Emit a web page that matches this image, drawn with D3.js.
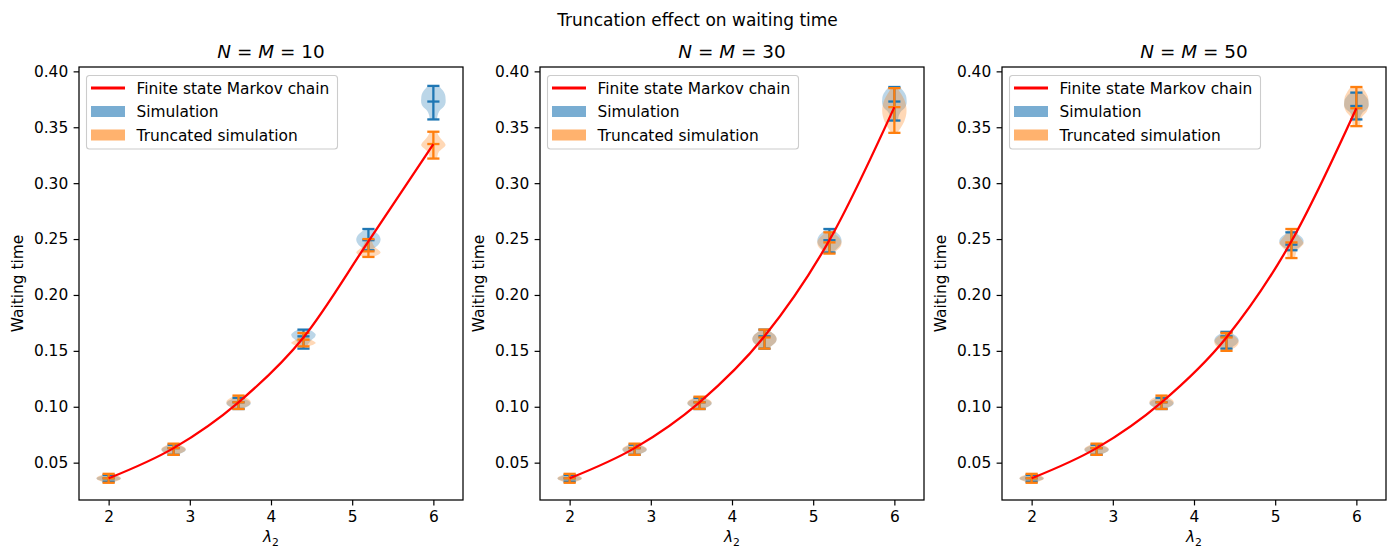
<!DOCTYPE html>
<html>
<head>
<meta charset="utf-8">
<script src="https://cdn.jsdelivr.net/npm/d3@7"></script>
<style>
  html, body { margin: 0; padding: 0; background: #fff; }
  svg { display: block; font-family: "DejaVu Sans", sans-serif; }
</style>
</head>
<body>
<svg id="chart" width="1395" height="549"></svg>
<script>
// ---------------- data ----------------
const lambdas = [2.0, 2.8, 3.6, 4.4, 5.2, 6.0];
const xTicks = [2, 3, 4, 5, 6];
const yTicks = [0.05, 0.10, 0.15, 0.20, 0.25, 0.30, 0.35, 0.40];
const panelSizes = ["10", "30", "50"];
const suptitle = "Truncation effect on waiting time";
const legendLabels = ["Finite state Markov chain", "Simulation", "Truncated simulation"];

// Finite state Markov chain (red line)
const markov10 = [0.036, 0.063, 0.104, 0.162, 0.248, 0.335];
const markov30 = [0.036, 0.063, 0.104, 0.163, 0.249, 0.368];
const markov50 = [0.036, 0.063, 0.104, 0.162, 0.248, 0.367];

// Simulation violins: min / mean / max
const simMin10  = [0.033, 0.057, 0.098, 0.152, 0.240, 0.357];
const simMean10 = [0.036, 0.063, 0.104, 0.163, 0.249, 0.373];
const simMax10  = [0.039, 0.066, 0.108, 0.169, 0.259, 0.387];
const simMin30  = [0.033, 0.057, 0.098, 0.152, 0.238, 0.356];
const simMean30 = [0.036, 0.063, 0.104, 0.163, 0.249, 0.373];
const simMax30  = [0.039, 0.066, 0.108, 0.169, 0.259, 0.386];
const simMin50  = [0.033, 0.057, 0.098, 0.152, 0.240, 0.357];
const simMean50 = [0.036, 0.063, 0.104, 0.163, 0.245, 0.369];
const simMax50  = [0.039, 0.066, 0.108, 0.167, 0.256, 0.381];

// Truncated simulation violins: min / mean / max
const trMin10  = [0.032, 0.057, 0.098, 0.154, 0.234, 0.322];
const trMean10 = [0.036, 0.063, 0.104, 0.160, 0.239, 0.335];
const trMax10  = [0.040, 0.067, 0.110, 0.166, 0.250, 0.346];
const trMin30  = [0.032, 0.057, 0.098, 0.152, 0.237, 0.345];
const trMean30 = [0.036, 0.063, 0.104, 0.162, 0.247, 0.368];
const trMax30  = [0.040, 0.067, 0.109, 0.169, 0.256, 0.385];
const trMin50  = [0.032, 0.057, 0.098, 0.150, 0.233, 0.351];
const trMean50 = [0.036, 0.063, 0.104, 0.162, 0.247, 0.367];
const trMax50  = [0.040, 0.067, 0.110, 0.166, 0.259, 0.386];

// violin outlines (relative half-widths from min to max)
const profiles = {
  lens:    [0.25, 0.55, 0.80, 0.95, 1.00, 0.95, 0.80, 0.55, 0.25],
  vase:    [0.30, 0.35, 0.50, 0.85, 1.00, 1.00, 0.95, 0.75, 0.45],
  diamond: [0.30, 0.35, 0.45, 0.75, 1.00, 0.85, 0.60, 0.40, 0.30],
  bottom:  [0.35, 0.80, 1.00, 0.85, 0.60, 0.45, 0.35, 0.30, 0.25],
  top:     [0.25, 0.30, 0.40, 0.55, 0.75, 0.95, 1.00, 0.80, 0.40]
};
const simShape10 = ["lens", "lens", "lens", "top", "lens", "vase"];
const trShape10  = ["lens", "lens", "lens", "bottom", "bottom", "diamond"];
const simShape30 = ["lens", "lens", "lens", "lens", "lens", "vase"];
const trShape30  = ["lens", "lens", "lens", "lens", "lens", "lens"];
const simShape50 = ["lens", "lens", "lens", "lens", "lens", "vase"];
const trShape50  = ["lens", "lens", "lens", "lens", "diamond", "vase"];

// ---------------- layout / style ----------------
const C0 = "#1f77b4", C1 = "#ff7f0e";
const panelLeft = [79, 540, 1002];
const panelTop = 67, panelW = 384, panelH = 433;
const xDomain = [1.635, 6.365];
const yDomain = [0.0166, 0.4039];
const violinWidth = 0.3;
const fontTick = 15.4;
const lw = 2.3;

const panels = [
  {n: panelSizes[0], markov: markov10,
   sim: {min: simMin10, mean: simMean10, max: simMax10, shape: simShape10},
   tr:  {min: trMin10,  mean: trMean10,  max: trMax10,  shape: trShape10}},
  {n: panelSizes[1], markov: markov30,
   sim: {min: simMin30, mean: simMean30, max: simMax30, shape: simShape30},
   tr:  {min: trMin30,  mean: trMean30,  max: trMax30,  shape: trShape30}},
  {n: panelSizes[2], markov: markov50,
   sim: {min: simMin50, mean: simMean50, max: simMax50, shape: simShape50},
   tr:  {min: trMin50,  mean: trMean50,  max: trMax50,  shape: trShape50}}
];

const svg = d3.select("#chart");

svg.append("text")
  .attr("x", 697.5).attr("y", 26)
  .attr("text-anchor", "middle")
  .attr("font-size", 17)
  .text(suptitle);

panels.forEach((p, i) => {
  const g = svg.append("g").attr("transform", `translate(${panelLeft[i]},${panelTop})`);
  const x = d3.scaleLinear().domain(xDomain).range([0, panelW]);
  const y = d3.scaleLinear().domain(yDomain).range([panelH, 0]);

  const clipId = "clip" + i;
  g.append("clipPath").attr("id", clipId).append("rect")
    .attr("width", panelW).attr("height", panelH);
  const plot = g.append("g").attr("clip-path", `url(#${clipId})`);

  function violinSet(s, color) {
    const items = lambdas.map((l, k) => ({l, min: s.min[k], mean: s.mean[k], max: s.max[k], shape: profiles[s.shape[k]]}));
    items.forEach(d => {
      const n = d.shape.length;
      const pts = d.shape.map((w, j) => ({v: d.min + (d.max - d.min) * j / (n - 1), w}));
      const area = d3.area()
        .y(q => y(q.v))
        .x0(q => x(d.l - q.w * violinWidth / 2))
        .x1(q => x(d.l + q.w * violinWidth / 2))
        .curve(d3.curveCatmullRom);
      plot.append("path").attr("d", area(pts))
        .attr("fill", color).attr("fill-opacity", 0.3).attr("stroke", "none");
    });
    return items;
  }
  function violinLines(items, color) {
    const half = violinWidth / 4;
    const lg = plot.append("g").attr("stroke", color).attr("stroke-width", lw).attr("fill", "none");
    items.forEach(d => {
      lg.append("line").attr("x1", x(d.l)).attr("x2", x(d.l)).attr("y1", y(d.min)).attr("y2", y(d.max));
      [d.min, d.max, d.mean].forEach(v => {
        lg.append("line").attr("x1", x(d.l - half)).attr("x2", x(d.l + half))
          .attr("y1", y(v)).attr("y2", y(v));
      });
    });
  }
  const simItems = violinSet(p.sim, C0);
  const trItems = violinSet(p.tr, C1);
  violinLines(simItems, C0);
  violinLines(trItems, C1);

  const line = d3.line().x((d, k) => x(lambdas[k])).y(d => y(d)).curve(d3.curveMonotoneX);
  plot.append("path").attr("d", line(p.markov))
    .attr("fill", "none").attr("stroke", "#ff0000").attr("stroke-width", lw);

  const ax = g.append("g").attr("transform", `translate(0,${panelH})`)
    .call(d3.axisBottom(x).tickValues(xTicks).tickFormat(d3.format("d")).tickSize(5.4).tickPadding(5.6).tickSizeOuter(0));
  const ay = g.append("g")
    .call(d3.axisLeft(y).tickValues(yTicks).tickFormat(d3.format(".2f")).tickSize(5.4).tickPadding(5.4).tickSizeOuter(0));
  [ax, ay].forEach(a => {
    a.select(".domain").remove();
    a.selectAll("line").attr("stroke", "#000").attr("stroke-width", 1.2);
    a.selectAll("text").attr("font-size", fontTick).attr("font-family", "DejaVu Sans").attr("fill", "#000");
  });

  g.append("rect").attr("width", panelW).attr("height", panelH)
    .attr("fill", "none").attr("stroke", "#000").attr("stroke-width", 1.25);

  const t = g.append("text").attr("x", panelW / 2).attr("y", -9.5)
    .attr("text-anchor", "middle").attr("font-size", 18.4);
  t.append("tspan").attr("font-style", "italic").text("N");
  t.append("tspan").text(" = ");
  t.append("tspan").attr("font-style", "italic").text("M");
  t.append("tspan").text(" = " + p.n);

  const xl = g.append("text").attr("x", panelW / 2).attr("y", panelH + 42)
    .attr("text-anchor", "middle").attr("font-size", fontTick);
  xl.append("tspan").attr("font-style", "italic").text("λ");
  xl.append("tspan").attr("font-size", 10.8).attr("dy", 3.5).text("2");

  g.append("text")
    .attr("transform", `translate(-61,${panelH / 2}) rotate(-90)`)
    .attr("text-anchor", "middle").attr("dominant-baseline", "central")
    .attr("font-size", fontTick).text("Waiting time");

  const lg = g.append("g").attr("transform", "translate(7.5,8.5)");
  lg.append("rect").attr("width", 251).attr("height", 73.5).attr("rx", 3)
    .attr("fill", "#fff").attr("fill-opacity", 0.8)
    .attr("stroke", "#cccccc").attr("stroke-width", 1.1);
  const rowY = [12.5, 36, 59.5];
  lg.append("line").attr("x1", 4.5).attr("x2", 38.5).attr("y1", rowY[0]).attr("y2", rowY[0])
    .attr("stroke", "#ff0000").attr("stroke-width", 3);
  lg.append("rect").attr("x", 4.5).attr("y", rowY[1] - 5.5).attr("width", 34).attr("height", 11)
    .attr("fill", C0).attr("fill-opacity", 0.6);
  lg.append("rect").attr("x", 4.5).attr("y", rowY[2] - 5.5).attr("width", 34).attr("height", 11)
    .attr("fill", C1).attr("fill-opacity", 0.6);
  legendLabels.forEach((lab, k) => {
    lg.append("text").attr("x", 50).attr("y", rowY[k]).attr("dy", "0.36em")
      .attr("font-size", fontTick).text(lab);
  });
});
</script>
</body>
</html>
